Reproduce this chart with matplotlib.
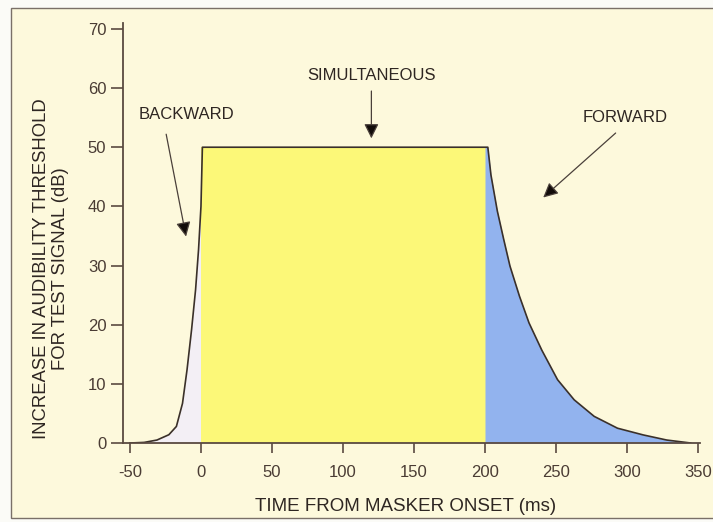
import matplotlib.pyplot as plt
from matplotlib.patches import Rectangle

plt.rcParams['font.family'] = ['Liberation Sans', 'DejaVu Sans']
plt.rcParams['axes.unicode_minus'] = False

# --- masking curve data (time in ms, threshold increase in dB) ---
backward_t = [-50, -40, -31, -22.6, -17.3, -13, -9.8, -6.6, -3.8, -1.7, 0, 1]
backward_db = [0, 0.1, 0.5, 1.4, 2.8, 6.7, 12.4, 19.2, 25.9, 32.7, 40, 50]

simult_t = [0, 202]
simult_db = [50, 50]

forward_t = [202, 204.2, 208.7, 213.2, 217.6, 224.3, 231, 240, 251.1, 262.8,
             276.9, 293.3, 311.5, 328, 344.8]
forward_db = [50, 45.3, 39.2, 34.4, 29.9, 24.8, 20.3, 15.7, 10.7, 7.3,
              4.5, 2.5, 1.36, 0.5, 0]

x_ticks = [-50, 0, 50, 100, 150, 200, 250, 300, 350]
y_ticks = [0, 10, 20, 30, 40, 50, 60, 70]

labels = ["BACKWARD", "SIMULTANEOUS", "FORWARD"]
label_xy = [(-10.5, 55.6), (120, 62.2), (299, 55.1)]
arrow_from = [(-24.5, 52.2), (120, 59.5), (292, 52.4)]
arrow_to = [(-10.5, 34.9), (120, 51.5), (241, 41.5)]

cream = "#fdf9dc"
ink = "#3a302a"
tick_col = "#4a3c34"

fig = plt.figure(figsize=(7.13, 5.22), dpi=100, facecolor="#fbfbf7")
frame = Rectangle((11 / 713, 4 / 522), 1.0, 510 / 522,
                  transform=fig.transFigure, facecolor=cream,
                  edgecolor="#7a7068", linewidth=1.0, zorder=-10)
fig.patches.append(frame)

ax = fig.add_axes([123 / 713, 79 / 522, 577 / 713, 420 / 522])
ax.set_facecolor("none")
ax.set_xlim(-54.9, 351.4)
ax.set_ylim(0, 71)

# filled regions
ax.fill_between(backward_t, 0, backward_db, color="#f3eff5", lw=0, zorder=1)
ax.fill_between(simult_t, 0, simult_db, color="#fcf878", lw=0, zorder=1)
ax.fill_between([200] + forward_t, 0, [50] + forward_db, color="#92b3ee",
                lw=0, zorder=1)

# outline of the whole masking curve
ax.plot(backward_t + forward_t, backward_db + forward_db,
        color=ink, lw=1.2, zorder=3)

for text, xy, p0, p1 in zip(labels, label_xy, arrow_from, arrow_to):
    ax.text(xy[0], xy[1], text, ha="center", va="center", fontsize=12,
            color="#2e2622")
    ax.annotate("", xy=p1, xytext=p0,
                arrowprops=dict(arrowstyle="-|>", color="#4a403a", lw=0.9,
                                mutation_scale=22, shrinkA=0, shrinkB=0,
                                fc="#120c0a", ec="#4a403a"))

for side in ["top", "right"]:
    ax.spines[side].set_visible(False)
for side in ["left", "bottom"]:
    ax.spines[side].set_color("#5a4a40")
    ax.spines[side].set_linewidth(1.3)
    ax.spines[side].set_zorder(4)

ax.set_xticks(x_ticks)
ax.set_yticks(y_ticks)
ax.tick_params(axis="x", direction="out", length=7, width=1.2, color="#5a4a40",
               labelsize=12, labelcolor=tick_col, pad=9)
ax.tick_params(axis="y", direction="out", length=9, width=1.2, color="#5a4a40",
               labelsize=12, labelcolor=tick_col, pad=3)

ax.set_xlabel("TIME FROM MASKER ONSET (ms)", fontsize=13.5, color="#2e2622")
ax.xaxis.set_label_coords(0.49, -0.13)
ax.text(-0.125, 0.414, "INCREASE IN AUDIBILITY THRESHOLD\nFOR TEST SIGNAL (dB)",
        transform=ax.transAxes, rotation=90, ha="center", va="center",
        multialignment="center", fontsize=13.3, color="#2e2622", linespacing=1.15)

fig.savefig("out.png", dpi=100, facecolor=fig.get_facecolor())
